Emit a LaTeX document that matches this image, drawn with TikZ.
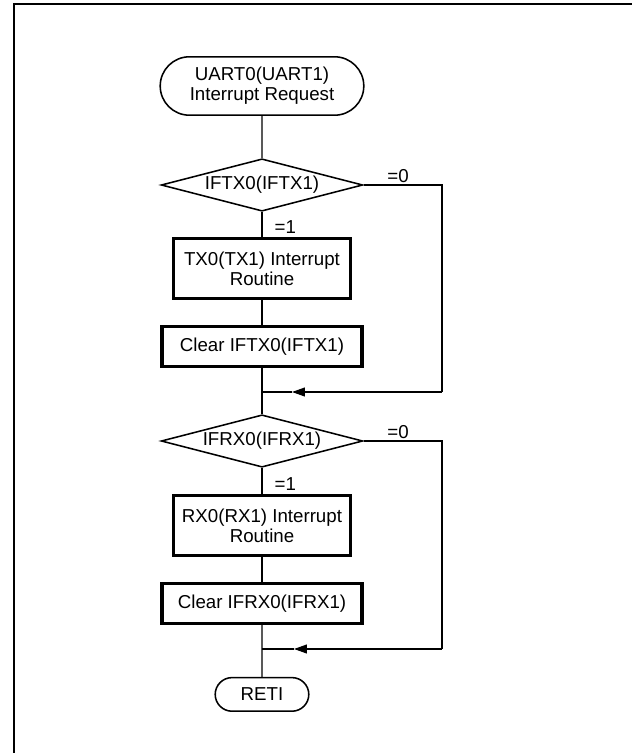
\documentclass[tikz,border=0pt]{standalone}
\usepackage{fontspec}
\setmainfont{Liberation Sans}
\usetikzlibrary{shapes.geometric, shapes.misc, positioning, arrows.meta, calc}

\begin{document}
\begin{tikzpicture}[
    every node/.style={font=\fontsize{13.3}{14.2}\selectfont},
    terminal/.style={
        draw, rounded rectangle, line width=1.1pt,
        align=center, inner sep=0pt,
    },
    decision/.style={
        draw, diamond, line width=1.1pt, aspect=3.8,
        minimum width=5.04cm, minimum height=1.31cm, inner sep=0pt,
    },
    process/.style={
        draw, line width=2.2pt, align=center, inner sep=0pt,
    },
    flow/.style={line width=0.9pt},
    back/.style={
        flow, -{Triangle[length=0.32cm, width=0.22cm]},
    },
    cond/.style={inner sep=1.5pt},
]

\useasboundingbox (0,0) rectangle (15.8,-18.825);

%--- Frame ---
\draw[line width=1.4pt] (0.35,-18.9) -- (0.35,-0.1) -- (15.9,-0.1);

%--- Flow nodes ---
\node[terminal, minimum width=5.09cm, minimum height=1.46cm] (start) at (6.55,-2.15)
    {UART0(UART1)\\Interrupt Request};
\node[decision] (d1) at (6.55,-4.625) {IFTX0(IFTX1)};
\node[process, minimum width=4.425cm, minimum height=1.5cm] (tx) at (6.55,-6.71)
    {TX0(TX1) Interrupt\\Routine};
\node[process, minimum width=5.0cm, minimum height=1.0cm] (ctx) at (6.55,-8.66)
    {Clear IFTX0(IFTX1)};
\node[decision] (d2) at (6.55,-11.025) {IFRX0(IFRX1)};
\node[process, minimum width=4.425cm, minimum height=1.5cm] (rx) at (6.55,-13.14)
    {RX0(RX1) Interrupt\\Routine};
\node[process, minimum width=5.0cm, minimum height=1.0cm] (crx) at (6.55,-15.09)
    {Clear IFRX0(IFRX1)};
\node[terminal, minimum width=2.34cm, minimum height=0.84cm] (reti) at (6.55,-17.36)
    {RETI};

%--- Join points ---
\coordinate (j1) at (6.55,-9.8);
\coordinate (t1) at (7.3,-9.8);
\coordinate (c1) at (11.05,-9.8);
\coordinate (j2) at (6.55,-16.225);
\coordinate (t2) at (7.35,-16.225);
\coordinate (c2) at (11.05,-16.225);

%--- Main line ---
\draw[flow] (start) -- (d1);
\draw[flow] (d1) -- node[cond, pos=0.6, anchor=west, xshift=0.25cm] (y1) {=1} (tx);
\draw[flow] (tx) -- (ctx);
\draw[flow] (ctx) -- (d2);
\draw[flow] (d2) -- node[cond, pos=0.6, anchor=west, xshift=0.25cm] (y2) {=1} (rx);
\draw[flow] (rx) -- (crx);
\draw[flow] (crx) -- (reti);

%--- Skip branches ---
\draw[flow] (d1.east) -| node[cond, pos=0.22, above] (n1) {=0} (c1);
\draw[back] (c1) -- (t1);
\draw[flow] (t1) -- (j1);
\draw[flow] (d2.east) -| node[cond, pos=0.22, above] (n2) {=0} (c2);
\draw[back] (c2) -- (t2);
\draw[flow] (t2) -- (j2);

\end{tikzpicture}
\end{document}
